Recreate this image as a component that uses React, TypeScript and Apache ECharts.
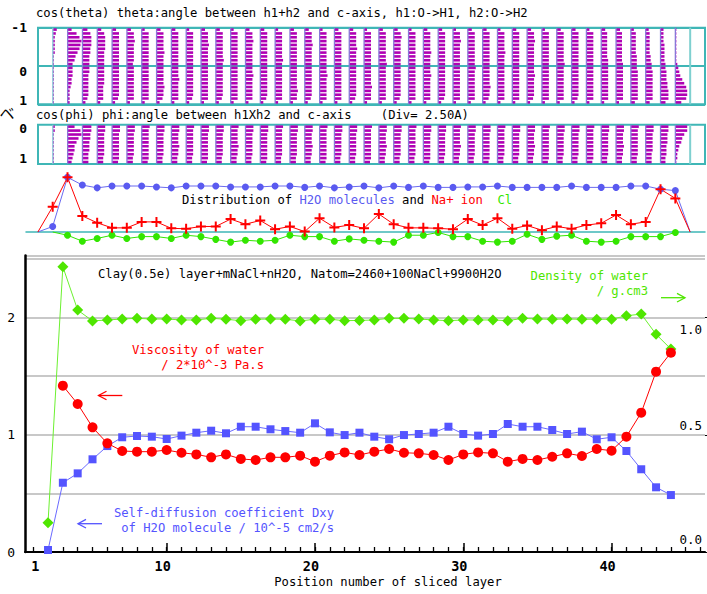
import React, { useEffect, useRef } from 'react';
import * as echarts from 'echarts';

const FONT = "'DejaVu Sans Mono', monospace";
const TEAL = '#3fb6b6';
const MAGENTA = '#b000b4';
const LAYER_LINE = '#8878d8';
const BLUE = '#5454ff';
const RED = '#ff0000';
const GREEN = '#4fe600';
const GRAY = '#c8c8c8';

// ---------- top panels: histograms per layer (hex digit = count) ----------
const layerIdx = [0,1,2,3,4,5,6,7,8,9,10,11,12,13,14,15,16,17,18,19,20,21,22,23,24,25,26,27,28,29,30,31,32,33,34,35,36,37,38,39,40,41,42];
const COUNT_PER_LAYER = 15;
const thetaHist = [
  '43222221111111111111','49CEDCA8755554432222','58999887777766666653','47888877777777766663',
  '47777777777777777763','47787777767777777773','37777777777777777773','47777787777777787763',
  '47777777777778777773','37777777777777777763','47778777777777777773','47777777877777777763',
  '37777777777777777773','47787777777787777773','47777777777777777763','37777777877777777773',
  '47777777777777778773','47778777777777777763','37777777777787777773','47777777777777777773',
  '47777877777777777763','37777777777777787773','47777777787777777773','47877777777777777763',
  '37777777777777777773','47777787777787777773','47777777777777777763','37787777777777777773',
  '47777777778777777773','47777777777777787763','37777787777777777773','47777777777777777773',
  '47787777777787777763','37777777777777777773','47777777787777777773','47777777777777777763',
  '37777777777777777773','46666666777777777773','46666666677777777773','35555556666777777774',
  '34444445566777777774','33334444455666778885','111111111234579BCCB6',
];
const phiHist = [
  '2211111111','7DEB977654','9988777666','8877777766','8877777776','8877777766','8777777776',
  '8877777766','8877787766','8777777766','8877777776','8877777766','8777787766','8877777766',
  '8877777776','8777777766','8877777766','8877787766','8777777776','8877777766','8877777766',
  '8777777776','8877787766','8877777766','8777777766','8877777776','8877777766','8777787766',
  '8877777766','8877777776','8777777766','8877777766','8877787766','8777777776','8877777766',
  '8877777766','8777777776','8877777766','8877787766','8777777766','8877777666','8877766655',
  'CC97643221',
];

// ---------- distribution panel ----------
const distPos = [-1,0,1,2,3,4,5,6,7,8,9,10,11,12,13,14,15,16,17,18,19,20,21,22,23,24,25,26,27,28,29,30,31,32,33,34,35,36,37,38,39,40,41,42,43];
const waterDist = [0,0.12,1.19,1.02,0.96,1.0,1.0,1.0,0.98,0.96,1.0,1.0,1.0,0.98,0.98,0.98,1.0,1.0,0.97,1.0,0.96,0.98,1.0,0.96,1.0,0.97,1.0,0.97,0.97,0.98,0.98,1.0,0.97,0.97,0.97,0.97,1.0,0.97,0.97,0.97,1.0,1.0,0.93,0.90,0];
const naDist = [0,0.55,1.19,0.35,0.20,0.09,0.09,0.22,0.22,0.08,0.07,0.12,0.12,0.28,0.17,0.25,0.06,0.12,0.01,0.30,0.10,0.15,0.08,0.39,0.17,0.09,0.09,0.08,0.06,0.28,0.15,0.30,0.07,0.14,0.04,0.12,0.07,0.15,0.19,0.37,0.17,0.22,0.93,0.73,0];
const clDist = [null,0,-0.07,-0.2,-0.14,-0.07,-0.14,-0.1,-0.1,-0.14,-0.07,-0.1,-0.16,-0.22,-0.18,-0.2,-0.18,-0.07,-0.1,-0.1,-0.2,-0.15,-0.18,-0.2,-0.22,-0.07,-0.07,-0.01,-0.1,-0.1,-0.2,-0.22,-0.2,-0.05,-0.16,-0.09,-0.07,-0.2,-0.22,-0.2,-0.1,-0.1,-0.1,-0.01,null];

// ---------- main chart ----------
const layerPos = [2,3,4,5,6,7,8,9,10,11,12,13,14,15,16,17,18,19,20,21,22,23,24,25,26,27,28,29,30,31,32,33,34,35,36,37,38,39,40,41,42,43,44];
const density = [0.125,1.217,1.032,0.986,0.990,0.994,0.997,0.994,0.994,0.990,0.990,0.997,0.993,0.987,0.993,0.994,0.993,0.986,0.993,0.993,0.987,0.988,0.990,0.997,0.997,0.994,0.990,0.987,0.990,0.990,0.990,0.987,0.997,0.994,0.993,0.994,0.993,0.993,0.993,1.008,1.015,0.929,0.866];
const viscosity = [null,1.419,1.263,1.064,0.927,0.862,0.856,0.856,0.870,0.847,0.833,0.808,0.833,0.794,0.785,0.808,0.808,0.822,0.771,0.822,0.850,0.828,0.856,0.879,0.847,0.842,0.828,0.785,0.833,0.850,0.842,0.771,0.794,0.785,0.813,0.842,0.819,0.879,0.865,0.984,1.189,1.539,1.701];
const diffusion = [0.017,0.591,0.671,0.791,0.904,0.979,0.990,0.984,0.964,0.993,1.018,1.035,1.013,1.069,1.069,1.047,1.032,1.018,1.098,1.021,0.998,1.018,0.984,0.962,0.998,1.007,1.018,1.069,1.007,0.993,1.007,1.092,1.069,1.069,1.041,1.007,1.027,0.962,0.979,0.862,0.706,0.552,0.486];
const xTicks = [1,2,3,4,5,6,7,8,9,10,11,12,13,14,15,16,17,18,19,20,21,22,23,24,25,26,27,28,29,30,31,32,33,34,35,36,37,38,39,40,41,42,43,44,45,46];
const xMajorTicks = [10,20,30,40];
const xLabels = [1,10,20,30,40];

const PLUS = 'path://M4,0H6V4H10V6H6V10H4V6H0V4H4Z';

function histData(hist: string[]) {
  const out: number[][] = [];
  hist.forEach((s, k) => s.split('').forEach((ch, b) => out.push([layerIdx[k], b, parseInt(ch, 16)])));
  return out;
}

function histSeries(hist: string[], idx: number, yMin: number, yMax: number) {
  const nb = hist[0].length;
  const step = (yMax - yMin) / nb;
  return {
    type: 'custom', xAxisIndex: idx, yAxisIndex: idx, silent: true, z: 3,
    data: histData(hist),
    encode: { x: 0, y: 1 },
    renderItem: (params: any, api: any) => {
      const k = api.value(0), b = api.value(1), v = api.value(2);
      if (!v) return null;
      const p = api.coord([k, yMin + (b + 0.5) * step]);
      const w = api.size([v / COUNT_PER_LAYER, 0])[0];
      return { type: 'rect', shape: { x: p[0], y: p[1] - 1.3, width: w, height: 2.6 }, style: { fill: MAGENTA } };
    },
  };
}

function layerLineSeries(idx: number, yMin: number, yMax: number) {
  const d = layerIdx.map((k) => [k, yMin]).concat([[43, yMin]]);
  return {
    type: 'custom', xAxisIndex: idx, yAxisIndex: idx, silent: true, z: 4,
    data: d, encode: { x: 0, y: 1 },
    renderItem: (params: any, api: any) => {
      const k = api.value(0);
      const a = api.coord([k, yMin]);
      const b = api.coord([k, yMax]);
      const color = k === 43 ? '#7fd0d0' : k === 0 ? '#88c8d8' : LAYER_LINE;
      return { type: 'line', shape: { x1: a[0], y1: a[1], x2: b[0], y2: b[1] }, style: { stroke: color, lineWidth: k === 43 ? 2 : 1.3 } };
    },
  };
}

function txt(x: number, y: number, text: string, fill: string, align = 'left', extra: any = {}) {
  return {
    type: 'text', x, y, silent: true, z: 10,
    style: { text, fill, font: `12.2px ${FONT}`, align, verticalAlign: 'middle', textAlign: align, textVerticalAlign: 'middle', ...extra },
  };
}

function arrow(x1: number, x2: number, y: number, color: string, headLeft: boolean) {
  const hx = headLeft ? x1 : x2;
  const d = headLeft ? 8 : -8;
  return {
    type: 'group', silent: true, z: 10,
    children: [
      { type: 'line', shape: { x1, y1: y, x2, y2: y }, style: { stroke: color, lineWidth: 1.3 } },
      { type: 'polyline', shape: { points: [[hx + d, y - 4.3], [hx, y], [hx + d, y + 4.3]] }, style: { stroke: color, lineWidth: 1.3, fill: null } },
    ],
  };
}

const hidden = { show: false };

function buildOption() {
  const labelFont = { fontFamily: FONT, fontSize: 13, fontWeight: 'bold', color: '#000' };
  const xl = { ...labelFont, fontSize: 13.5 };
  const rFont = { fontFamily: FONT, fontSize: 12.5, color: '#000' };
  return {
    animation: false,
    backgroundColor: '#fff',
    grid: [
      { left: 38, top: 27.7, width: 667, height: 76.6, show: true, borderColor: TEAL, borderWidth: 2, outerBoundsMode: 'none' },
      { left: 38, top: 124.7, width: 667, height: 39.3, show: true, borderColor: TEAL, borderWidth: 2, outerBoundsMode: 'none' },
      { left: 26, top: 172.2, width: 679, height: 73.6, outerBoundsMode: 'none' },
      { left: 25, top: 255.5, width: 680, height: 296.5, outerBoundsMode: 'none' },
    ],
    xAxis: [
      { type: 'value', gridIndex: 0, min: -1, max: 44, show: false },
      { type: 'value', gridIndex: 1, min: -1, max: 44, show: false },
      { type: 'value', gridIndex: 2, min: -1.8, max: 44, axisLine: { show: true, onZero: true, lineStyle: { color: TEAL, width: 1.5 } }, axisTick: hidden, axisLabel: hidden, splitLine: hidden },
      {
        type: 'value', gridIndex: 3, min: 0.447, max: 46.3, position: 'bottom',
        axisLine: { show: true, onZero: false, lineStyle: { color: '#000', width: 2 } },
        axisTick: { show: true, inside: true, length: 5, customValues: xTicks, lineStyle: { color: '#000', width: 1.3 } },
        axisLabel: {
          show: true, customValues: xLabels, margin: 7, ...xl,
          formatter: (v: number) => (v === 1 ? '{o|1}' : `{t|${v}}`),
          rich: { o: { ...xl, padding: [0, 0, 0, 4] }, t: { ...xl, padding: [0, 8, 0, 0] } },
        },
        splitLine: hidden,
      },
      {
        type: 'value', gridIndex: 3, min: 0.447, max: 46.3, position: 'bottom',
        axisLine: { show: false, onZero: false },
        axisTick: { show: true, inside: true, length: 9, customValues: xMajorTicks, lineStyle: { color: '#000', width: 1.5 } },
        axisLabel: hidden, splitLine: hidden,
      },
    ],
    yAxis: [
      {
        type: 'value', gridIndex: 0, min: -1, max: 1, interval: 1, inverse: true,
        axisLine: hidden, axisTick: hidden,
        splitLine: { show: true, lineStyle: { color: TEAL, width: 2 } },
        axisLabel: {
          margin: 11, ...labelFont,
          formatter: (v: number) => (v === -1 ? '{t|-1}' : v === 0 ? '{m|0}' : v === 1 ? '{b|1}' : ''),
          rich: {
            t: { ...labelFont },
            m: { ...labelFont, padding: [10, 0, 0, 0] },
            b: { ...labelFont, padding: [0, 0, 8, 0] },
          },
        },
      },
      {
        type: 'value', gridIndex: 1, min: 0, max: 1, interval: 1, inverse: true,
        axisLine: hidden, axisTick: hidden, splitLine: hidden,
        axisLabel: {
          margin: 11, ...labelFont,
          formatter: (v: number) => (v === 0 ? '{m|0}' : v === 1 ? '{b|1}' : ''),
          rich: {
            m: { ...labelFont, padding: [8, 0, 0, 0] },
            b: { ...labelFont, padding: [0, 0, 12, 0] },
          },
        },
      },
      { type: 'value', gridIndex: 2, min: -0.3, max: 1.3, show: false },
      {
        type: 'value', gridIndex: 3, min: 0, max: 2.53, interval: 0.5, position: 'left',
        axisLine: { show: true, onZero: false, lineStyle: { color: '#000', width: 2.5 } },
        axisTick: hidden,
        splitLine: { show: true, lineStyle: { color: GRAY, width: 2 } },
        axisLabel: { margin: 10, fontFamily: FONT, fontSize: 13, color: '#000', formatter: (v: number) => (v === 0 || v === 1 || v === 2 ? String(v) : '') },
      },
      {
        type: 'value', gridIndex: 3, min: 0, max: 1.265, interval: 0.5, position: 'right',
        axisLine: hidden,
        axisTick: { show: true, length: 3, lineStyle: { color: '#000' } },
        splitLine: hidden,
        axisLabel: {
          inside: true, margin: 3, ...rFont, showMaxLabel: false,
          formatter: (v: number) => (v === 1 ? '{d|1.0}' : v === 0.5 ? '{u|0.5}' : v === 0 ? '{w|0.0}' : ''),
          rich: {
            d: { ...rFont, padding: [24, 0, 0, 0] },
            u: { ...rFont, padding: [0, 0, 18, 0] },
            w: { ...rFont, padding: [0, 0, 26, 0] },
          },
        },
      },
    ],
    series: [
      histSeries(thetaHist, 0, -1, 1),
      layerLineSeries(0, -1, 1),
      histSeries(phiHist, 1, 0, 1),
      layerLineSeries(1, 0, 1),
      {
        type: 'line', xAxisIndex: 2, yAxisIndex: 2, silent: true,
        data: distPos.map((k, i) => ({ value: [k, clDist[i]], symbol: i <= 1 ? 'none' : 'circle' })),
        symbolSize: 7, itemStyle: { color: '#33e600' }, lineStyle: { color: '#33e600', width: 1 },
      },
      {
        type: 'line', xAxisIndex: 2, yAxisIndex: 2, silent: true,
        data: distPos.map((k, i) => ({ value: [k, waterDist[i]], symbol: i === 0 || i === distPos.length - 1 ? 'none' : 'circle' })),
        symbolSize: 7, itemStyle: { color: '#5a5af0' }, lineStyle: { color: '#6a6af0', width: 1 },
      },
      {
        type: 'line', xAxisIndex: 2, yAxisIndex: 2, silent: true,
        data: distPos.map((k, i) => ({ value: [k, naDist[i]], symbol: i === 0 || i === distPos.length - 1 ? 'none' : PLUS })),
        symbolSize: 10, itemStyle: { color: RED }, lineStyle: { color: RED, width: 1 },
      },
      {
        type: 'line', xAxisIndex: 3, yAxisIndex: 4, silent: true,
        data: layerPos.map((p, i) => [p, density[i]]),
        symbol: 'diamond', symbolSize: 11, itemStyle: { color: GREEN }, lineStyle: { color: '#6cf030', width: 1 },
      },
      {
        type: 'line', xAxisIndex: 3, yAxisIndex: 3, silent: true,
        data: layerPos.map((p, i) => [p, diffusion[i]]),
        symbol: 'rect', symbolSize: 8, itemStyle: { color: BLUE }, lineStyle: { color: '#6a6aff', width: 1 },
      },
      {
        type: 'line', xAxisIndex: 3, yAxisIndex: 3, silent: true, connectNulls: false,
        data: layerPos.map((p, i) => [p, viscosity[i]]),
        symbol: 'circle', symbolSize: 10, itemStyle: { color: RED }, lineStyle: { color: RED, width: 1 },
      },
    ],
    graphic: [
      txt(36, 13, 'cos(theta) theta:angle between h1+h2 and c-axis, h1:O->H1, h2:O->H2', '#000'),
      txt(36, 115, 'cos(phi) phi:angle between h1Xh2 and c-axis    (Div= 2.50A)', '#000'),
      { type: 'text', x: 7, y: 112, silent: true, style: { text: 'ベ', fill: '#000', font: "15px 'Noto Sans CJK JP'", align: 'center', verticalAlign: 'middle', textAlign: 'center', textVerticalAlign: 'middle' } },
      {
        type: 'text', x: 182, y: 200, silent: true, z: 10,
        style: {
          text: '{k|Distribution of }{b|H2O molecules}{k| and }{r|Na+ ion}{k|  }{g|Cl}',
          font: `12.2px ${FONT}`, verticalAlign: 'middle', textVerticalAlign: 'middle',
          rich: {
            k: { fill: '#000', color: '#000', fontFamily: FONT, fontSize: 12.2 },
            b: { fill: '#5a5af0', color: '#5a5af0', fontFamily: FONT, fontSize: 12.2 },
            r: { fill: RED, color: RED, fontFamily: FONT, fontSize: 12.2 },
            g: { fill: '#33e600', color: '#33e600', fontFamily: FONT, fontSize: 12.2 },
          },
        },
      },
      txt(98, 274, 'Clay(0.5e) layer+mNaCl+nH2O, Natom=2460+100NaCl+9900H2O', '#000'),
      txt(648, 276, 'Density of water', GREEN, 'right'),
      txt(648, 291, '/ g.cm3', GREEN, 'right'),
      arrow(661, 685, 297.7, GREEN, false),
      txt(264, 350, 'Viscosity of water', RED, 'right'),
      txt(264, 365, '/ 2*10^-3 Pa.s', RED, 'right'),
      arrow(98.5, 122.3, 395.5, RED, true),
      txt(334, 513, 'Self-diffusion coefficient Dxy', BLUE, 'right'),
      txt(334, 528, 'of H2O molecule / 10^-5 cm2/s', BLUE, 'right'),
      arrow(78, 102, 523.7, BLUE, true),
      txt(388, 582, 'Position number of sliced layer', '#000', 'center'),
    ],
  };
}

export default function App() {
  const ref = useRef<HTMLDivElement>(null);
  useEffect(() => {
    const chart = echarts.init(ref.current!, null, { renderer: 'svg' });
    chart.setOption(buildOption() as any);
    return () => chart.dispose();
  }, []);
  return <div ref={ref} style={{ position: 'absolute', left: 0, top: 0, width: 707, height: 594 }} />;
}
